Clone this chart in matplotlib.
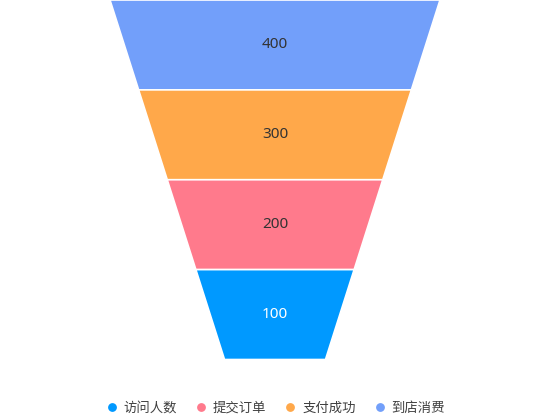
import matplotlib
matplotlib.use("Agg")
import matplotlib.pyplot as plt
from matplotlib.patches import Polygon
from matplotlib.lines import Line2D

plt.rcParams['font.family'] = ['Noto Sans CJK SC', 'DejaVu Sans']

# data
stages = ['访问人数', '提交订单', '支付成功', '到店消费']
values = [100, 200, 300, 400]
colors = ['#0099FF', '#FF7A8C', '#FFA84A', '#729FFA']
label_colors = ['#FFFFFF', '#333333', '#333333', '#333333']

W, H, DPI = 550, 420, 100
fig = plt.figure(figsize=(W / DPI, H / DPI), dpi=DPI)

funnel_bottom_px = 359.5
ax = fig.add_axes([0, (H - funnel_bottom_px) / H, 1, funnel_bottom_px / H])
ax.set_xlim(-0.5, 0.5)
n = len(values)
ax.set_ylim(n, 0)
ax.axis('off')

max_frac = 330 / W
min_frac = 101 / W
vmax = max(values)


def width_of(v):
    return min_frac + (max_frac - min_frac) * v / vmax


# draw from largest (top) to smallest (bottom)
order = sorted(range(n), key=lambda i: -values[i])
for pos, i in enumerate(order):
    v = values[i]
    nxt = values[order[pos + 1]] if pos + 1 < n else 0
    wt = width_of(v) / 2
    wb = width_of(nxt) / 2
    poly = Polygon([(-wt, pos), (wt, pos), (wb, pos + 1), (-wb, pos + 1)],
                   closed=True, facecolor=colors[i], edgecolor='white',
                   linewidth=1.2, joinstyle='miter')
    ax.add_patch(poly)
    ax.text(0, pos + 0.5, str(v), ha='center', va='center',
            fontsize=11, color=label_colors[i], family=['Noto Sans', 'DejaVu Sans'])

handles = [Line2D([0], [0], marker='o', linestyle='none', markersize=5.3,
                  markerfacecolor=c, markeredgecolor=c) for c in colors]
leg = fig.legend(handles, stages, loc='center', ncol=4,
                 bbox_to_anchor=(0.5, (H - 408) / H), frameon=False,
                 fontsize=9.6, handletextpad=0.38, columnspacing=1.3,
                 handlelength=1.0, labelcolor='#404040')

fig.savefig('out.png', dpi=DPI)
